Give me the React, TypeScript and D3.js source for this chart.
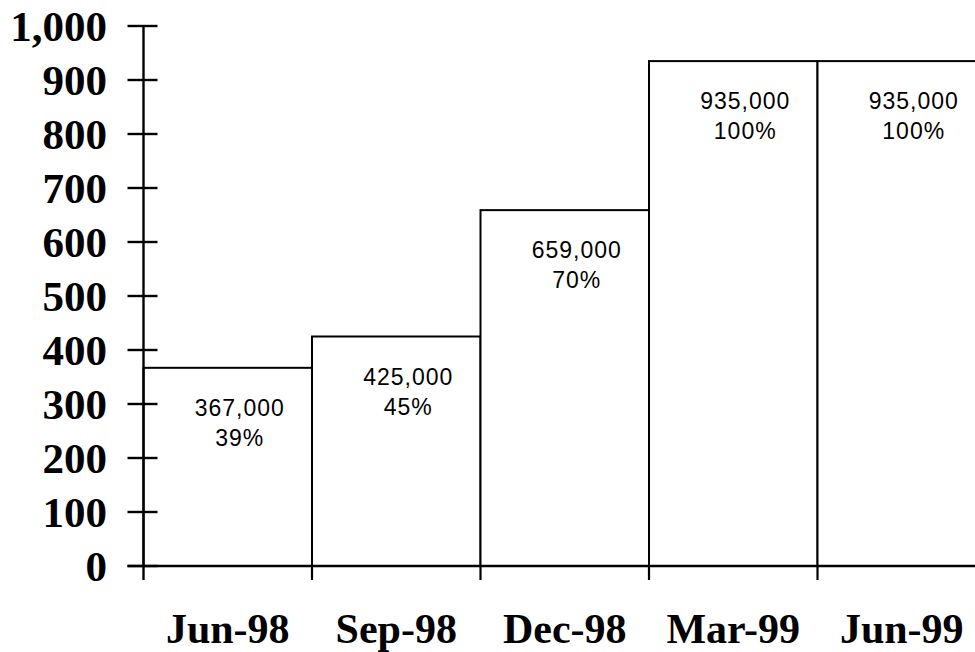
import React, { useRef, useEffect } from 'react';
import * as d3 from 'd3';

const quarters = ['Jun-98', 'Sep-98', 'Dec-98', 'Mar-99', 'Jun-99'];
const installed = [367000, 425000, 659000, 935000, 935000];
const target = 935000;
const yTicks = [0, 100, 200, 300, 400, 500, 600, 700, 800, 900, 1000];

const WIDTH = 975;
const HEIGHT = 652;

const App: React.FC = () => {
  const svgRef = useRef<SVGSVGElement | null>(null);

  useEffect(() => {
    document.body.style.margin = '0';
    const svg = d3.select(svgRef.current);
    svg.selectAll('*').remove();

    const left = 143.5;
    const bandW = 168.5;
    const x = d3.scaleBand<string>()
      .domain(quarters)
      .range([left, left + bandW * quarters.length])
      .paddingInner(0)
      .paddingOuter(0);

    // values plotted in thousands
    const y = d3.scaleLinear().domain([0, 1000]).range([566, 26]);

    const g = svg.append('g');

    // bars
    g.selectAll('rect.bar')
      .data(installed)
      .enter()
      .append('rect')
      .attr('class', 'bar')
      .attr('x', (_, i) => x(quarters[i]) as number)
      .attr('y', d => y(d / 1000))
      .attr('width', x.bandwidth())
      .attr('height', d => y(0) - y(d / 1000))
      .attr('fill', 'white')
      .attr('stroke', 'black')
      .attr('stroke-width', 2);

    // value labels inside bars
    installed.forEach((v, i) => {
      const cx = (x(quarters[i]) as number) + x.bandwidth() / 2 + 12;
      const top = y(v / 1000);
      const t = g.append('text')
        .attr('text-anchor', 'middle')
        .style('font-family', '"Liberation Sans", Arial, sans-serif')
        .style('font-size', '23px')
        .style('letter-spacing', '1px')
        .attr('fill', 'black');
      t.append('tspan').attr('x', cx).attr('y', top + 48).text(d3.format(',')(v));
      t.append('tspan').attr('x', cx).attr('y', top + 78).text(`${Math.round((v / target) * 100)}%`);
    });

    // y axis
    const yAxis = g.append('g');
    yAxis.append('line')
      .attr('x1', left).attr('x2', left)
      .attr('y1', y(1000)).attr('y2', y(0) + 14)
      .attr('stroke', 'black').attr('stroke-width', 2.4);
    yTicks.forEach(t => {
      yAxis.append('line')
        .attr('x1', left - 16).attr('x2', left + 14)
        .attr('y1', y(t)).attr('y2', y(t))
        .attr('stroke', 'black').attr('stroke-width', 2.4);
      yAxis.append('text')
        .attr('x', 107)
        .attr('y', y(t) + 15)
        .attr('text-anchor', 'end')
        .style('font-family', '"Liberation Serif", "Times New Roman", serif')
        .style('font-weight', 'bold')
        .style('font-size', '43px')
        .text(d3.format(',')(t));
    });

    // x axis
    const xAxis = g.append('g');
    xAxis.append('line')
      .attr('x1', left - 16).attr('x2', WIDTH)
      .attr('y1', y(0)).attr('y2', y(0))
      .attr('stroke', 'black').attr('stroke-width', 2.4);
    quarters.forEach((q, i) => {
      const bx = x(q) as number;
      if (i > 0) {
        xAxis.append('line')
          .attr('x1', bx).attr('x2', bx)
          .attr('y1', y(0)).attr('y2', y(0) + 14)
          .attr('stroke', 'black').attr('stroke-width', 2.2);
      }
      xAxis.append('text')
        .attr('x', bx + x.bandwidth() / 2)
        .attr('y', 643)
        .attr('text-anchor', 'middle')
        .style('font-family', '"Liberation Serif", "Times New Roman", serif')
        .style('font-weight', 'bold')
        .style('font-size', '42px')
        .text(q);
    });
  }, []);

  return (
    <svg
      ref={svgRef}
      width={WIDTH}
      height={HEIGHT}
      style={{ display: 'block', background: 'white' }}
    />
  );
};

export default App;
